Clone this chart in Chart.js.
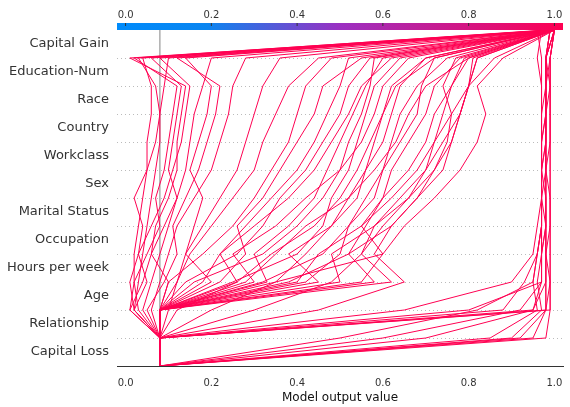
<!DOCTYPE html>
<html>
<head>
<meta charset="utf-8">
<script src="https://cdn.jsdelivr.net/npm/chart.js@4"></script>
<style>
  body { margin: 0; background: #fff; }
  #wrap { width: 570px; height: 407px; }
</style>
</head>
<body>
<div id="wrap"><canvas id="chart"></canvas></div>
<script>
// features from bottom to top
const features = ["Capital Loss", "Relationship", "Age", "Hours per week", "Occupation",
  "Marital Status", "Sex", "Workclass", "Country", "Race", "Education-Num", "Capital Gain"];
const baseValue = 0.08;
const xTicks = [0.0, 0.2, 0.4, 0.6, 0.8, 1.0];

// cumulative model output at each feature boundary (bottom -> top)
const paths = [
  [0.08,0.98,0.99,0.99,0.99,0.99,0.99,0.99,0.99,0.99,0.99,0.99,1.0],
  [0.08,0.95,0.98,0.98,0.98,0.98,0.98,0.97,0.98,0.98,0.98,0.99,1.0],
  [0.08,0.90,0.97,0.96,0.97,0.97,0.97,0.97,0.97,0.97,0.98,0.98,0.99],
  [0.08,0.85,0.96,0.95,0.96,0.97,0.97,0.97,0.97,0.98,0.98,0.98,0.99],
  [0.08,0.60,0.92,0.97,0.97,0.98,0.98,0.98,0.98,0.98,0.98,0.98,0.99],
  [0.08,0.50,0.82,0.95,0.96,0.97,0.97,0.97,0.98,0.98,0.98,0.98,0.99],
  [0.08,0.70,0.95,0.98,0.98,0.98,0.98,0.98,0.98,0.98,0.98,0.98,1.0],
  [0.08,0.92,0.98,0.99,0.98,0.99,0.99,0.98,0.99,0.99,0.99,0.99,1.0],
  [0.08,0.08,0.98,0.98,0.98,0.98,0.97,0.97,0.97,0.97,0.97,0.96,0.97],
  [0.08,0.08,0.95,0.97,0.97,0.98,0.98,0.98,0.98,0.98,0.98,0.98,1.0],
  [0.08,0.08,0.80,0.97,0.97,0.97,0.97,0.98,0.98,0.98,0.99,0.99,1.0],
  [0.08,0.08,0.88,0.93,0.96,0.97,0.97,0.97,0.97,0.97,0.97,0.97,0.96],
  [0.08,0.08,0.65,0.90,0.95,0.96,0.97,0.97,0.97,0.98,0.98,0.98,1.0],
  [0.08,0.08,0.99,0.99,0.99,0.99,0.99,0.99,0.99,0.99,0.99,0.98,1.0],
  [0.08,0.08,0.08,0.28,0.35,0.42,0.52,0.58,0.63,0.66,0.70,0.80,1.0],
  [0.08,0.08,0.08,0.40,0.45,0.55,0.62,0.68,0.72,0.76,0.80,0.86,1.0],
  [0.08,0.08,0.08,0.18,0.22,0.30,0.38,0.44,0.48,0.52,0.55,0.62,1.0],
  [0.08,0.08,0.08,0.55,0.60,0.65,0.72,0.78,0.82,0.84,0.82,0.88,1.0],
  [0.08,0.08,0.08,0.12,0.15,0.20,0.25,0.30,0.32,0.35,0.38,0.45,1.0],
  [0.08,0.08,0.08,0.35,0.60,0.55,0.60,0.62,0.66,0.70,0.72,0.78,1.0],
  [0.08,0.08,0.08,0.45,0.38,0.48,0.54,0.56,0.58,0.60,0.62,0.70,1.0],
  [0.08,0.08,0.08,0.22,0.28,0.26,0.32,0.36,0.40,0.44,0.46,0.55,1.0],
  [0.08,0.08,0.08,0.62,0.55,0.58,0.64,0.70,0.74,0.78,0.80,0.82,1.0],
  [0.08,0.08,0.08,0.16,0.32,0.40,0.46,0.50,0.52,0.55,0.57,0.58,1.0],
  [0.08,0.08,0.08,0.30,0.25,0.35,0.42,0.50,0.55,0.58,0.60,0.66,1.0],
  [0.08,0.08,0.08,0.50,0.48,0.58,0.66,0.72,0.75,0.76,0.74,0.77,1.0],
  [0.08,0.08,0.08,0.10,0.18,0.25,0.30,0.34,0.38,0.40,0.42,0.48,1.0],
  [0.08,0.08,0.08,0.25,0.40,0.46,0.48,0.52,0.54,0.56,0.58,0.64,1.0],
  [0.08,0.08,0.08,0.38,0.52,0.62,0.68,0.74,0.76,0.78,0.80,0.81,1.0],
  [0.08,0.08,0.08,0.20,0.14,0.18,0.22,0.26,0.28,0.30,0.32,0.36,1.0],
  [0.08,0.08,0.08,0.42,0.50,0.52,0.56,0.60,0.64,0.68,0.69,0.72,1.0],
  [0.08,0.08,0.08,0.33,0.30,0.38,0.44,0.47,0.50,0.53,0.56,0.60,1.0],
  [0.08,0.08,0.08,0.26,0.22,0.28,0.34,0.40,0.44,0.47,0.50,0.52,1.0],
  [0.08,0.08,0.08,0.58,0.52,0.56,0.60,0.66,0.70,0.72,0.76,0.79,1.0],
  [0.08,0.08,0.08,0.14,0.26,0.32,0.36,0.42,0.46,0.50,0.52,0.57,1.0],
  [0.08,0.08,0.30,0.48,0.55,0.60,0.66,0.70,0.72,0.74,0.76,0.80,1.0],
  [0.08,0.08,0.45,0.65,0.58,0.62,0.68,0.72,0.76,0.78,0.80,0.82,1.0],
  [0.08,0.08,0.20,0.35,0.42,0.48,0.52,0.56,0.60,0.62,0.64,0.70,1.0],
  [0.08,0.08,0.12,0.26,0.34,0.44,0.50,0.54,0.57,0.60,0.63,0.72,1.0],
  [0.08,0.08,0.08,0.32,0.46,0.52,0.58,0.60,0.62,0.64,0.68,0.75,1.0],
  [0.08,0.08,0.02,0.03,0.04,0.05,0.06,0.07,0.08,0.08,0.09,0.10,1.0],
  [0.08,0.08,0.01,0.02,0.02,0.03,0.04,0.05,0.05,0.06,0.06,0.04,1.0],
  [0.08,0.08,0.04,0.06,0.08,0.10,0.12,0.14,0.15,0.16,0.18,0.20,1.0],
  [0.08,0.08,0.06,0.08,0.10,0.12,0.16,0.20,0.22,0.24,0.25,0.28,1.0],
  [0.08,0.08,0.03,0.02,0.05,0.08,0.07,0.09,0.10,0.11,0.12,0.02,0.98],
  [0.08,0.08,0.10,0.12,0.14,0.16,0.18,0.15,0.17,0.19,0.20,0.14,1.0],
  [0.08,0.08,0.02,0.05,0.03,0.06,0.09,0.11,0.13,0.14,0.15,0.08,1.0],
  [0.08,0.08,0.08,0.10,0.06,0.09,0.12,0.10,0.11,0.12,0.13,0.06,0.99],
  [0.08,0.08,0.02,0.01,0.03,0.04,0.02,0.05,0.07,0.08,0.07,0.03,1.0],
  [0.08,0.08,0.05,0.09,0.12,0.11,0.14,0.17,0.19,0.21,0.22,0.12,1.0],
  [0.08,0.08,0.01,0.04,0.06,0.07,0.10,0.12,0.12,0.13,0.14,0.01,0.99]
];

const datasets = paths.map(p => ({
  data: p.map((v, i) => ({ x: v, y: i })),
  borderColor: "#ff0052",
  borderWidth: 1,
  pointRadius: 0,
  fill: false,
  tension: 0
}));

// dotted grid, base line and colour bar
const decoration = {
  id: "decoration",
  beforeDatasetsDraw(chart) {
    const { ctx, chartArea: a, scales: { x, y } } = chart;
    ctx.save();
    ctx.strokeStyle = "#bbb";
    ctx.lineWidth = 1;
    ctx.setLineDash([1, 3]);
    for (let i = 1; i < features.length; i++) {
      const py = Math.round(y.getPixelForValue(i)) + 0.5;
      ctx.beginPath(); ctx.moveTo(a.left, py); ctx.lineTo(a.right, py); ctx.stroke();
    }
    ctx.setLineDash([]);
    ctx.strokeStyle = "#999";
    ctx.lineWidth = 1.2;
    const bx = x.getPixelForValue(baseValue);
    ctx.beginPath(); ctx.moveTo(bx, a.top); ctx.lineTo(bx, y.getPixelForValue(1)); ctx.stroke();
    ctx.restore();
  },
  afterDraw(chart) {
    const { ctx, chartArea: a, scales: { x } } = chart;
    ctx.save();
    const g = ctx.createLinearGradient(a.left, 0, a.right, 0);
    g.addColorStop(0, "#008bfb");
    g.addColorStop(0.2, "#0a85f0");
    g.addColorStop(0.5, "#9b30c2");
    g.addColorStop(1, "#ff0052");
    ctx.fillStyle = g;
    ctx.fillRect(a.left, a.top - 7, a.right - a.left, 7);
    ctx.fillStyle = "#333";
    ctx.strokeStyle = "#333";
    ctx.font = "10px 'DejaVu Sans'";
    ctx.textAlign = "center";
    ctx.textBaseline = "bottom";
    xTicks.forEach(t => {
      const px = x.getPixelForValue(t);
      ctx.beginPath(); ctx.moveTo(px, a.top - 7); ctx.lineTo(px, a.top - 4); ctx.stroke();
      ctx.fillText(t.toFixed(1), px, a.top - 10);
    });
    ctx.restore();
  }
};

new Chart(document.getElementById("chart"), {
  type: "line",
  data: { datasets },
  options: {
    responsive: true,
    maintainAspectRatio: false,
    animation: false,
    layout: { padding: { top: 30, right: 7, left: 0, bottom: 0 } },
    plugins: { legend: { display: false }, tooltip: { enabled: false } },
    scales: {
      x: {
        type: "linear",
        min: -0.02,
        max: 1.02,
        afterBuildTicks: s => { s.ticks = xTicks.map(v => ({ value: v })); },
        afterFit: s => { s.height = 41; },
        grid: { display: false, drawTicks: true },
        border: { display: true, color: "#333", width: 1 },
        ticks: { color: "#333", font: { family: "DejaVu Sans", size: 10 }, callback: v => v.toFixed(1) },
        title: { display: true, text: "Model output value", color: "#111", font: { family: "DejaVu Sans", size: 12 }, padding: 2 }
      },
      y: {
        type: "linear",
        min: 0,
        max: features.length,
        afterBuildTicks: s => { s.ticks = features.map((f, i) => ({ value: i + 0.5 })); },
        afterFit: s => { s.width = 117; },
        grid: { display: false },
        border: { display: false },
        ticks: {
          color: "#333",
          font: { family: "DejaVu Sans", size: 13 },
          padding: 0,
          callback: v => features[Math.floor(v)]
        }
      }
    }
  },
  plugins: [decoration]
});
</script>
</body>
</html>
